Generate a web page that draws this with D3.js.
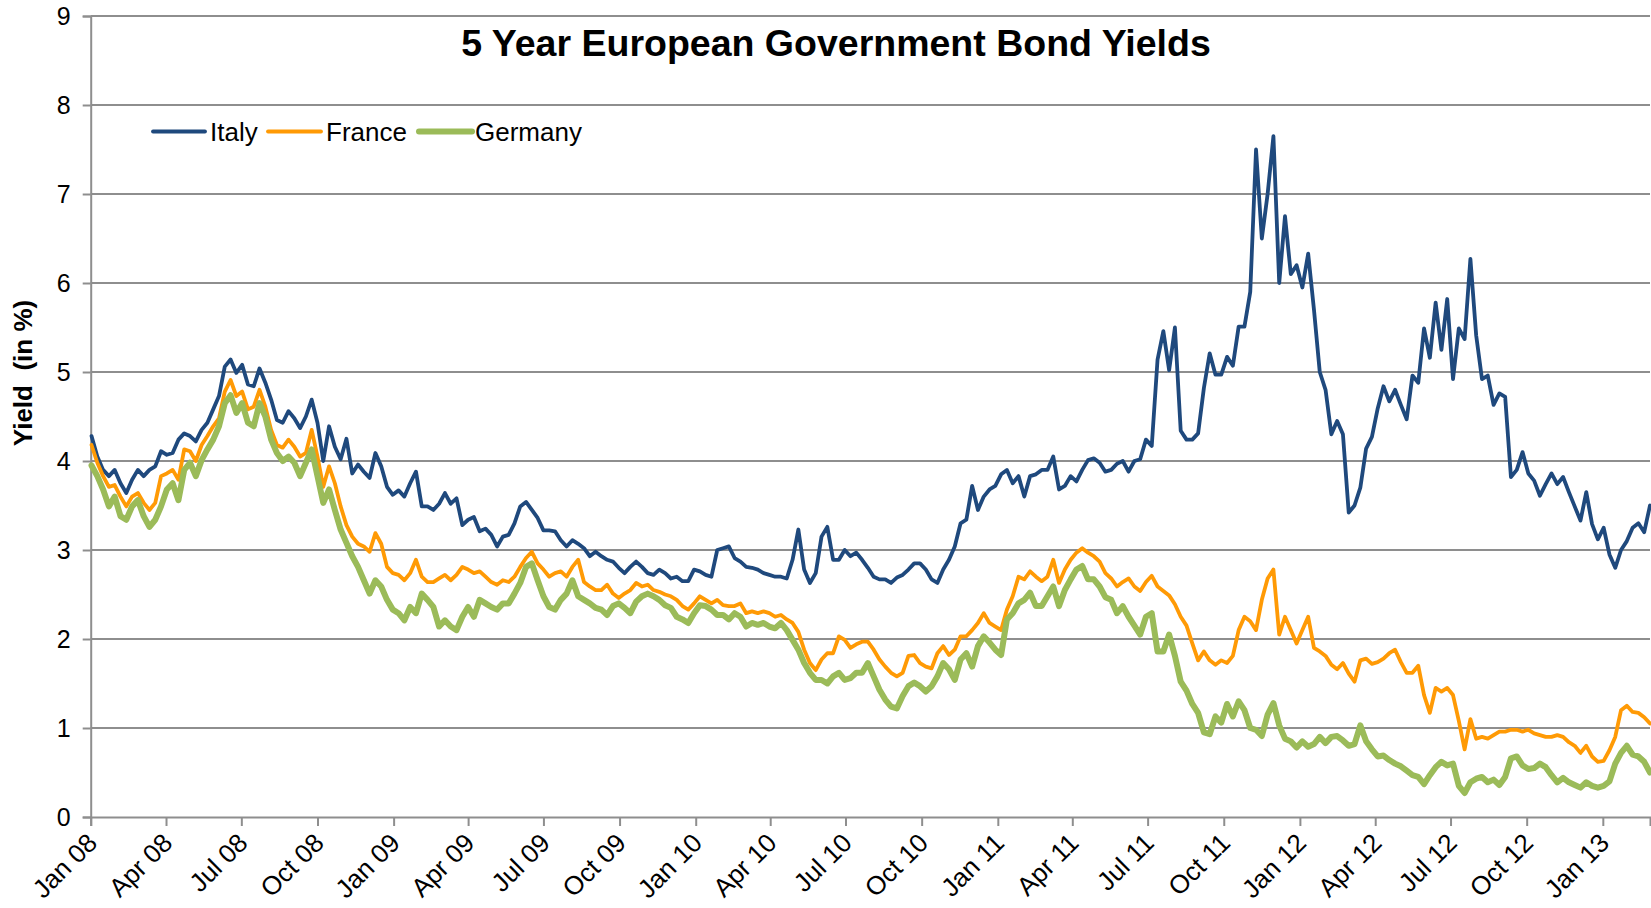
<!DOCTYPE html>
<html>
<head>
<meta charset="utf-8">
<script src="https://cdn.jsdelivr.net/npm/d3@7/dist/d3.min.js"></script>
<style>
  html, body { margin: 0; padding: 0; background: #fff; }
  svg { display: block; font-family: "Liberation Sans", Arial, sans-serif; }
</style>
</head>
<body>
<svg id="chart" width="1651" height="908"></svg>
<script>
// Weekly 5-year government bond yields (%), first observation 2 Jan 2008, one value per week
const firstWeek = "2008-01-02";
const seriesNames = ["Italy", "France", "Germany"];
const seriesColors = ["#1F497D", "#FF9A05", "#9BBB59"];
const yTicks = [0, 1, 2, 3, 4, 5, 6, 7, 8, 9];

const italy = [
  4.28, 4.05, 3.90, 3.83, 3.90, 3.75, 3.64, 3.79, 3.90, 3.83,
  3.90, 3.94, 4.11, 4.07, 4.09, 4.24, 4.31, 4.28, 4.22, 4.35,
  4.43, 4.58, 4.73, 5.06, 5.14, 4.99, 5.08, 4.86, 4.84, 5.04,
  4.88, 4.69, 4.46, 4.43, 4.56, 4.48, 4.37, 4.50, 4.69, 4.43,
  4.00, 4.39, 4.16, 4.02, 4.25, 3.86, 3.96, 3.88, 3.81, 4.09,
  3.94, 3.71, 3.62, 3.67, 3.60, 3.75, 3.88, 3.49, 3.49, 3.45,
  3.52, 3.64, 3.52, 3.58, 3.28, 3.34, 3.37, 3.21, 3.24, 3.17,
  3.04, 3.15, 3.17, 3.30, 3.49, 3.54, 3.45, 3.36, 3.22, 3.22,
  3.21, 3.11, 3.04, 3.11, 3.07, 3.02, 2.93, 2.98, 2.93, 2.89,
  2.87, 2.80, 2.74, 2.81, 2.87, 2.81, 2.74, 2.72, 2.78, 2.74,
  2.68, 2.70, 2.65, 2.65, 2.78, 2.76, 2.72, 2.70, 3.00, 3.02,
  3.04, 2.91, 2.87, 2.81, 2.80, 2.78, 2.74, 2.72, 2.70, 2.70,
  2.68, 2.89, 3.23, 2.78, 2.63, 2.74, 3.15, 3.26, 2.89, 2.89,
  3.00, 2.93, 2.97, 2.89, 2.80, 2.70, 2.67, 2.67, 2.63, 2.69,
  2.72, 2.78, 2.85, 2.85, 2.78, 2.67, 2.63, 2.78, 2.89, 3.04,
  3.30, 3.34, 3.72, 3.45, 3.60, 3.68, 3.72, 3.85, 3.90, 3.75,
  3.83, 3.60, 3.83, 3.85, 3.90, 3.90, 4.05, 3.68, 3.72, 3.83,
  3.77, 3.90, 4.01, 4.03, 3.98, 3.88, 3.90, 3.97, 4.00, 3.88,
  4.00, 4.02, 4.24, 4.17, 5.14, 5.46, 5.02, 5.50, 4.34, 4.24,
  4.24, 4.31, 4.82, 5.21, 4.97, 4.97, 5.17, 5.07, 5.51, 5.51,
  5.90, 7.50, 6.50, 7.00, 7.65, 6.00, 6.75, 6.10, 6.20, 5.95,
  6.33, 5.70, 5.00, 4.80, 4.30, 4.45, 4.30, 3.42, 3.50, 3.70,
  4.14, 4.27, 4.59, 4.84, 4.67, 4.80, 4.63, 4.47, 4.96, 4.88,
  5.49, 5.16, 5.78, 5.25, 5.82, 4.92, 5.49, 5.37, 6.27, 5.41,
  4.92, 4.96, 4.63, 4.76, 4.72, 3.82, 3.90, 4.10, 3.86, 3.78,
  3.61, 3.74, 3.86, 3.74, 3.82, 3.65, 3.49, 3.33, 3.65, 3.29,
  3.12, 3.25, 2.95, 2.80, 3.00, 3.10, 3.25, 3.30, 3.20, 3.50
];

const france = [
  4.18, 3.98, 3.83, 3.71, 3.73, 3.60, 3.49, 3.60, 3.64, 3.53,
  3.45, 3.53, 3.83, 3.86, 3.90, 3.79, 4.13, 4.11, 4.00, 4.18,
  4.28, 4.39, 4.48, 4.78, 4.91, 4.73, 4.78, 4.58, 4.61, 4.80,
  4.61, 4.35, 4.18, 4.15, 4.24, 4.16, 4.05, 4.09, 4.35, 4.05,
  3.71, 3.94, 3.75, 3.49, 3.28, 3.15, 3.07, 3.04, 2.98, 3.19,
  3.07, 2.81, 2.74, 2.72, 2.66, 2.74, 2.89, 2.70, 2.64, 2.64,
  2.68, 2.72, 2.66, 2.72, 2.81, 2.78, 2.74, 2.76, 2.70, 2.64,
  2.61, 2.66, 2.64, 2.70, 2.81, 2.91, 2.98, 2.85, 2.78, 2.70,
  2.74, 2.76, 2.70, 2.81, 2.89, 2.64, 2.59, 2.55, 2.55, 2.61,
  2.51, 2.46, 2.51, 2.55, 2.63, 2.59, 2.61, 2.55, 2.53, 2.50,
  2.48, 2.44, 2.37, 2.33, 2.40, 2.48, 2.44, 2.40, 2.44, 2.38,
  2.37, 2.37, 2.40, 2.29, 2.31, 2.29, 2.31, 2.29, 2.25, 2.27,
  2.22, 2.18, 2.08, 1.88, 1.73, 1.65, 1.77, 1.84, 1.84, 2.03,
  1.99, 1.90, 1.94, 1.97, 1.97, 1.88, 1.77, 1.69, 1.62, 1.58,
  1.62, 1.81, 1.82, 1.73, 1.69, 1.67, 1.84, 1.92, 1.82, 1.88,
  2.03, 2.03, 2.10, 2.18, 2.29, 2.18, 2.14, 2.10, 2.33, 2.48,
  2.70, 2.67, 2.76, 2.70, 2.65, 2.70, 2.89, 2.63, 2.78, 2.89,
  2.97, 3.02, 2.97, 2.93, 2.87, 2.74, 2.68, 2.59, 2.64, 2.68,
  2.59, 2.54, 2.64, 2.71, 2.59, 2.54, 2.49, 2.39, 2.25, 2.15,
  1.95, 1.76, 1.86, 1.76, 1.71, 1.76, 1.73, 1.81, 2.10, 2.25,
  2.20, 2.10, 2.44, 2.68, 2.78, 2.05, 2.25, 2.10, 1.95, 2.10,
  2.25, 1.90, 1.86, 1.81, 1.71, 1.66, 1.73, 1.61, 1.52, 1.76,
  1.78, 1.72, 1.74, 1.78, 1.84, 1.88, 1.74, 1.62, 1.62, 1.70,
  1.37, 1.17, 1.45, 1.41, 1.45, 1.37, 1.08, 0.76, 1.10, 0.88,
  0.90, 0.88, 0.92, 0.96, 0.96, 0.98, 0.98, 0.96, 0.98, 0.94,
  0.92, 0.90, 0.90, 0.92, 0.90, 0.84, 0.80, 0.72, 0.80, 0.68,
  0.62, 0.63, 0.75, 0.90, 1.20, 1.25, 1.18, 1.17, 1.12, 1.05
];

const germany = [
  3.95, 3.83, 3.68, 3.49, 3.60, 3.38, 3.34, 3.49, 3.56, 3.38,
  3.26, 3.34, 3.49, 3.68, 3.75, 3.56, 3.90, 3.98, 3.83, 4.01,
  4.13, 4.24, 4.39, 4.65, 4.74, 4.54, 4.65, 4.43, 4.39, 4.65,
  4.50, 4.24, 4.09, 4.00, 4.05, 3.98, 3.83, 3.98, 4.13, 3.83,
  3.53, 3.68, 3.45, 3.23, 3.08, 2.93, 2.81, 2.66, 2.51, 2.66,
  2.59, 2.44, 2.33, 2.29, 2.21, 2.36, 2.29, 2.51, 2.44, 2.36,
  2.14, 2.21, 2.14, 2.10, 2.25, 2.36, 2.25, 2.44, 2.40, 2.36,
  2.33, 2.40, 2.40, 2.51, 2.63, 2.81, 2.85, 2.66, 2.48, 2.36,
  2.33, 2.44, 2.51, 2.66, 2.48, 2.44, 2.40, 2.35, 2.33, 2.27,
  2.37, 2.40, 2.35, 2.29, 2.42, 2.48, 2.51, 2.48, 2.44, 2.38,
  2.35, 2.25, 2.22, 2.18, 2.29, 2.38, 2.37, 2.33, 2.27, 2.27,
  2.22, 2.29, 2.25, 2.14, 2.18, 2.16, 2.18, 2.14, 2.12, 2.18,
  2.10, 1.99, 1.88, 1.73, 1.62, 1.54, 1.54, 1.50, 1.58, 1.62,
  1.54, 1.56, 1.62, 1.62, 1.73, 1.58, 1.43, 1.32, 1.24, 1.22,
  1.36, 1.47, 1.51, 1.47, 1.41, 1.47, 1.58, 1.73, 1.66, 1.54,
  1.77, 1.84, 1.69, 1.92, 2.03, 1.96, 1.88, 1.82, 2.22, 2.29,
  2.40, 2.44, 2.52, 2.37, 2.37, 2.48, 2.59, 2.37, 2.55, 2.67,
  2.78, 2.82, 2.67, 2.67, 2.59, 2.47, 2.44, 2.29, 2.37, 2.25,
  2.15, 2.05, 2.25, 2.29, 1.86, 1.86, 2.05, 1.81, 1.52, 1.42,
  1.27, 1.17, 0.95, 0.93, 1.13, 1.06, 1.27, 1.13, 1.30, 1.20,
  1.00, 0.98, 0.91, 1.15, 1.28, 1.03, 0.88, 0.85, 0.78, 0.85,
  0.79, 0.82, 0.90, 0.83, 0.90, 0.91, 0.86, 0.80, 0.82, 1.03,
  0.85, 0.76, 0.68, 0.69, 0.64, 0.60, 0.57, 0.52, 0.47, 0.45,
  0.37, 0.47, 0.56, 0.62, 0.58, 0.60, 0.35, 0.27, 0.39, 0.43,
  0.45, 0.39, 0.42, 0.36, 0.45, 0.66, 0.68, 0.58, 0.54, 0.55,
  0.60, 0.56, 0.47, 0.39, 0.44, 0.39, 0.36, 0.33, 0.39, 0.35,
  0.33, 0.35, 0.40, 0.60, 0.72, 0.80, 0.70, 0.68, 0.62, 0.50
];

const seriesValues = [italy, france, germany];
const weekStart = d3.utcParse("%Y-%m-%d")(firstWeek);
const dates = italy.map((_, i) => d3.utcDay.offset(weekStart, 7 * i));

const svg = d3.select("#chart");
const W = 1651, H = 908;
const plot = { left: 90.7, right: 1650, top: 16, bottom: 817 };
const gridColor = "#8E8E8E";

svg.append("rect").attr("width", W).attr("height", H).attr("fill", "#fff");

const x = d3.scaleUtc()
  .domain([d3.utcDay.offset(weekStart, -1), dates[dates.length - 1]])
  .range([plot.left, plot.right]);
const y = d3.scaleLinear().domain([0, 9]).range([plot.bottom, plot.top]);

// horizontal gridlines
svg.append("g")
  .selectAll("line")
  .data(yTicks.filter(v => v > 0))
  .join("line")
  .attr("x1", plot.left).attr("x2", plot.right)
  .attr("y1", d => y(d)).attr("y2", d => y(d))
  .attr("stroke", gridColor).attr("stroke-width", 2);

// y axis
const yAxis = svg.append("g")
  .attr("transform", `translate(${plot.left},0)`)
  .call(d3.axisLeft(y).tickValues(yTicks).tickSize(8).tickPadding(12).tickFormat(d3.format("d")));
yAxis.select(".domain").attr("stroke", gridColor).attr("stroke-width", 2);
yAxis.selectAll(".tick line").attr("stroke", gridColor).attr("stroke-width", 2);
yAxis.selectAll(".tick text")
  .attr("fill", "#000")
  .style("font-size", "25px")
  .style("font-family", "'Liberation Sans', Arial, sans-serif");

// x axis with quarterly ticks
const quarterTicks = d3.utcMonth.every(3).range(new Date(Date.UTC(2008, 0, 1)), new Date(Date.UTC(2013, 0, 2)));
const xAxis = svg.append("g")
  .attr("transform", `translate(0,${plot.bottom})`)
  .call(d3.axisBottom(x).tickValues(quarterTicks).tickSize(9).tickFormat(d3.utcFormat("%b %y")));
xAxis.select(".domain").attr("stroke", gridColor).attr("stroke-width", 2);
xAxis.selectAll(".tick line").attr("stroke", gridColor).attr("stroke-width", 2);
xAxis.selectAll(".tick text")
  .attr("fill", "#000")
  .style("font-size", "26px")
  .style("font-family", "'Liberation Sans', Arial, sans-serif")
  .attr("text-anchor", "end")
  .attr("dy", "0.35em")
  .attr("transform", "translate(1,21) rotate(-45)")
  .attr("y", 0);

// series lines, Germany drawn last
const line = d3.line()
  .x((d, i) => x(dates[i]))
  .y(d => y(d))
  .curve(d3.curveLinear);
const widths = [3.8, 3.8, 6];

svg.append("g")
  .selectAll("path")
  .data(seriesValues)
  .join("path")
  .attr("d", d => line(d))
  .attr("fill", "none")
  .attr("stroke", (d, i) => seriesColors[i])
  .attr("stroke-width", (d, i) => widths[i])
  .attr("stroke-linejoin", "round")
  .attr("stroke-linecap", "round");

// legend
const legendItems = [
  { x1: 153, x2: 205, tx: 210 },
  { x1: 268, x2: 321, tx: 326 },
  { x1: 419, x2: 472, tx: 475 }
];
const legend = svg.append("g");
legendItems.forEach((it, i) => {
  legend.append("line")
    .attr("x1", it.x1).attr("x2", it.x2).attr("y1", 131.5).attr("y2", 131.5)
    .attr("stroke", seriesColors[i]).attr("stroke-width", widths[i])
    .attr("stroke-linecap", "round");
  legend.append("text")
    .attr("x", it.tx).attr("y", 140.5)
    .attr("font-size", 26)
    .attr("fill", "#000")
    .text(seriesNames[i]);
});

// title
svg.append("text")
  .attr("x", 836).attr("y", 56)
  .attr("text-anchor", "middle")
  .attr("font-size", 37.5)
  .attr("font-weight", "bold")
  .attr("fill", "#000")
  .text("5 Year European Government Bond Yields");

// y axis title
svg.append("text")
  .attr("transform", "translate(32,373) rotate(-90)")
  .attr("text-anchor", "middle")
  .attr("font-size", 26)
  .attr("font-weight", "bold")
  .attr("fill", "#000")
  .attr("xml:space", "preserve")
  .style("white-space", "pre")
  .text("Yield  (in %)");
</script>
</body>
</html>
